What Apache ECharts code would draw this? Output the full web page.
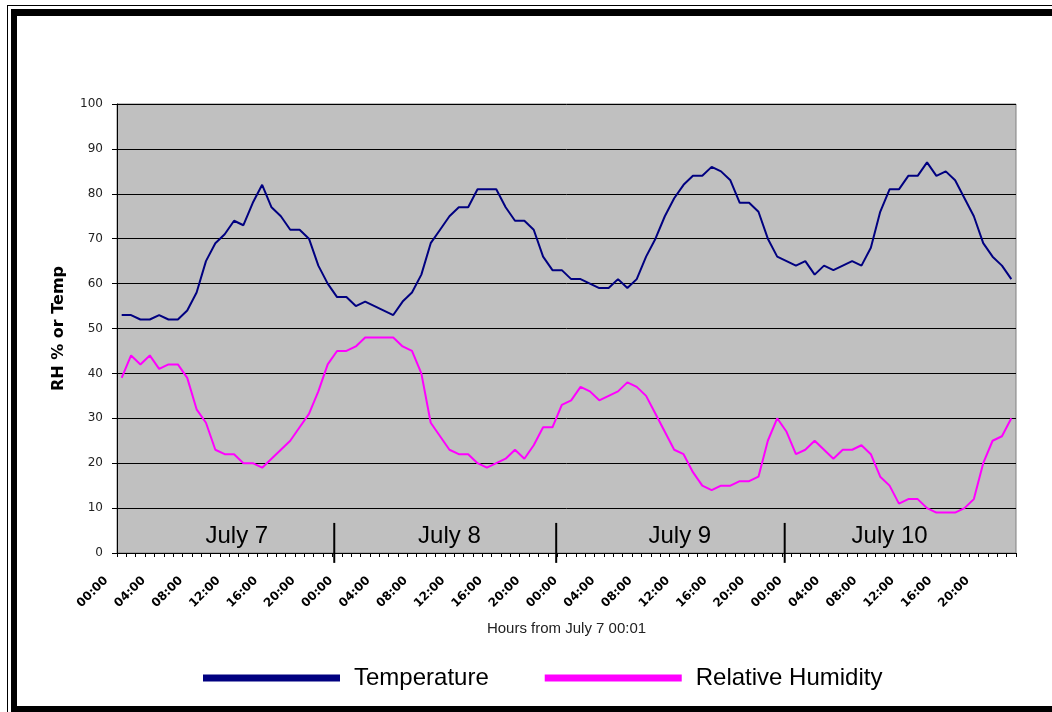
<!DOCTYPE html>
<html>
<head>
<meta charset="utf-8">
<script src="https://cdn.jsdelivr.net/npm/echarts@6/dist/echarts.min.js"></script>
<style>
  html, body { margin: 0; padding: 0; background: #fff; }
  #wrap { position: relative; width: 1052px; height: 712px; overflow: hidden; }
  #chart { position: absolute; left: 0; top: 0; width: 1052px; height: 712px; }
  .frame1 { position: absolute; left: 7px; top: 5px; width: 1100px; height: 800px;
            border-left: 1px solid #000; border-top: 1px solid #000; pointer-events: none; }
  .frame2 { position: absolute; left: 11px; top: 9px; width: 1100px; height: 690px;
            border-left: 6px solid #000; border-top: 7px solid #000; border-bottom: 6px solid #000; pointer-events: none; }
</style>
</head>
<body>
<div id="wrap">
  <div id="chart"></div>
  <div class="frame1"></div>
  <div class="frame2"></div>
</div>
<script>
// ---- data ----
const days = ['July 7', 'July 8', 'July 9', 'July 10'];
const tickLabels = ['00:00', '04:00', '08:00', '12:00', '16:00', '20:00'];

const temperature = [
  53, 53, 52, 52, 53, 52, 52, 54, 58, 65, 69, 71, 74, 73, 78, 82, 77, 75, 72, 72, 70, 64, 60, 57,
  57, 55, 56, 55, 54, 53, 56, 58, 62, 69, 72, 75, 77, 77, 81, 81, 81, 77, 74, 74, 72, 66, 63, 63,
  61, 61, 60, 59, 59, 61, 59, 61, 66, 70, 75, 79, 82, 84, 84, 86, 85, 83, 78, 78, 76, 70, 66, 65,
  64, 65, 62, 64, 63, 64, 65, 64, 68, 76, 81, 81, 84, 84, 87, 84, 85, 83, 79, 75, 69, 66, 64, 61
];
const humidity = [
  39, 44, 42, 44, 41, 42, 42, 39, 32, 29, 23, 22, 22, 20, 20, 19, 21, 23, 25, 28, 31, 36, 42, 45,
  45, 46, 48, 48, 48, 48, 46, 45, 40, 29, 26, 23, 22, 22, 20, 19, 20, 21, 23, 21, 24, 28, 28, 33,
  34, 37, 36, 34, 35, 36, 38, 37, 35, 31, 27, 23, 22, 18, 15, 14, 15, 15, 16, 16, 17, 25, 30, 27,
  22, 23, 25, 23, 21, 23, 23, 24, 22, 17, 15, 11, 12, 12, 10, 9, 9, 9, 10, 12, 20, 25, 26, 30
];

// hour-of-day category names (every hour of four days)
const categories = [];
days.forEach(function () {
  for (let h = 0; h < 24; h++) categories.push((h < 10 ? '0' : '') + h + ':00');
});

// annotation placement (in hours from start, on a hidden value axis)
const dayLabelHours = [12.8, 35.5, 60.1, 82.5];
const dividerHours = [23.2, 46.9, 71.3];

const chart = echarts.init(document.getElementById('chart'), null, { renderer: 'canvas' });

const option = {
  animation: false,
  backgroundColor: 'transparent',
  legend: {
    left: 198,
    top: 661,
    itemWidth: 137,
    itemHeight: 7,
    itemGap: 56,
    icon: 'rect',
    textStyle: {
      fontFamily: 'Liberation Sans, Arial, sans-serif',
      fontSize: 24,
      color: '#000',
      padding: [0, 0, 14, 9]
    },
    data: ['Temperature', 'Relative Humidity']
  },
  grid: {
    left: 117, right: 36, top: 104, bottom: 159,
    show: true,
    backgroundColor: '#c0c0c0',
    borderColor: '#808080',
    borderWidth: 1
  },
  xAxis: [
    {
      type: 'category',
      data: categories,
      boundaryGap: true,
      axisLine: { lineStyle: { color: '#000', width: 1 } },
      axisTick: { show: true, interval: 0, length: 4, lineStyle: { color: '#000' } },
      axisLabel: {
        interval: 3,
        rotate: 45,
        margin: 10,
        fontFamily: 'DejaVu Sans, sans-serif',
        fontWeight: 'bold',
        fontSize: 12,
        color: '#000',
        padding: [0, 22, 0, 0],
        formatter: function (v) { return tickLabels.indexOf(v) >= 0 ? v : v; }
      },
      splitLine: { show: false },
      name: 'Hours from July 7 00:01',
      nameLocation: 'middle',
      nameGap: 68,
      nameTextStyle: {
        fontFamily: 'Liberation Sans, Arial, sans-serif',
        fontSize: 15,
        color: '#222'
      }
    },
    {
      type: 'value',
      min: 0, max: 96,
      show: false
    }
  ],
  yAxis: {
    type: 'value',
    min: 0, max: 100, interval: 10,
    axisLine: { show: true, lineStyle: { color: '#000', width: 1 } },
    axisTick: { show: true, length: 5, lineStyle: { color: '#000' } },
    axisLabel: {
      margin: 14,
      fontFamily: 'DejaVu Sans, sans-serif',
      fontSize: 12,
      color: '#222'
    },
    splitLine: { show: true, lineStyle: { color: '#000', width: 1 } },
    name: 'RH % or Temp',
    nameLocation: 'middle',
    nameGap: 50,
    nameTextStyle: {
      fontFamily: 'DejaVu Sans, sans-serif',
      fontWeight: 'bold',
      fontSize: 16,
      color: '#000'
    }
  },
  series: [
    {
      name: 'Temperature',
      type: 'line',
      data: temperature,
      symbol: 'none',
      color: '#000080',
      lineStyle: { color: '#000080', width: 2 },
      z: 3
    },
    {
      name: 'Relative Humidity',
      type: 'line',
      data: humidity,
      symbol: 'none',
      color: '#ff00ff',
      lineStyle: { color: '#ff00ff', width: 2 },
      z: 3
    },
    {
      name: 'dividers',
      type: 'custom',
      xAxisIndex: 1,
      yAxisIndex: 0,
      clip: false,
      silent: true,
      z: 4,
      data: dividerHours.map(function (h) { return [h, 6.7, -2.2]; }),
      renderItem: function (params, api) {
        const p1 = api.coord([api.value(0), api.value(1)]);
        const p2 = api.coord([api.value(0), api.value(2)]);
        return {
          type: 'line',
          shape: { x1: p1[0], y1: p1[1], x2: p2[0], y2: p2[1] },
          style: { stroke: '#000', lineWidth: 2 }
        };
      }
    },
    {
      name: 'dayLabels',
      type: 'custom',
      xAxisIndex: 1,
      yAxisIndex: 0,
      clip: false,
      silent: true,
      z: 4,
      data: dayLabelHours.map(function (h, i) { return [h, 3.6, i]; }),
      renderItem: function (params, api) {
        const p = api.coord([api.value(0), api.value(1)]);
        return {
          type: 'text',
          x: p[0], y: p[1],
          style: {
            text: days[api.value(2)],
            fontFamily: 'Liberation Sans, Arial, sans-serif',
            fontSize: 24,
            fill: '#000',
            align: 'center',
            verticalAlign: 'middle'
          }
        };
      }
    }
  ]
};
chart.setOption(option);
</script>
</body>
</html>
